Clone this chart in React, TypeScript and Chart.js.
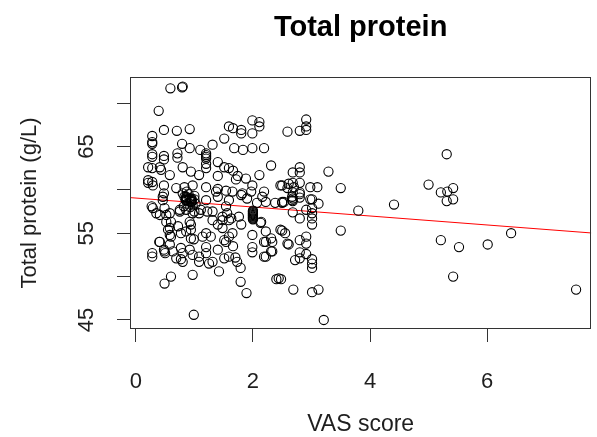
import React, { useEffect, useRef } from "react";
import { Chart, registerables } from "chart.js";

Chart.register(...registerables);

// ---- data ----
const vasScore = [
  0.59, 0.79, 0.8, 0.39,
  0.48, 0.7, 0.92, 0.28, 1.59, 1.51, 1.66, 1.8, 1.8, 1.99, 1.99, 2.11, 2.11, 2.59, 2.8, 2.91, 2.91, 2.91,
  0.28, 0.28, 0.79, 1.31, 0.92, 1.1, 1.2, 0.28, 0.48, 0.71, 1.68, 1.83, 1.99, 2.19, 1.2, 1.2,
  0.28, 0.48, 0.71, 1.2, 1.2, 1.4, 0.21, 0.41, 0.43, 0.8, 0.94, 1.2, 1.51, 1.59, 2.31, 2.8, 2.68, 2.8, 3.29, 1.66, 0.28, 1.08, 0.58, 1.4, 1.74, 1.71, 1.88, 2.11, 0.21, 0.28,
  0.21, 0.29, 0.48, 0.83, 0.97, 1.2, 1.4, 1.54, 0.69, 1.37, 1.65, 1.82, 1.99, 2.47, 2.61, 2.7, 2.98, 3.1, 2.5, 2.68, 2.8, 2.59, 3.5, 1.97, 2.19, 1.8,
  0.48, 0.46, 0.46, 1.2, 1.4, 1.59, 1.9, 2.07, 2.22, 2.38, 2.53, 2.67, 2.16, 2.67, 2.8, 2.98, 2.5, 2.68, 2.8, 2.5, 2.68, 2.68, 2.8, 3.01, 3.12, 0.29, 0.27, 0.49, 1.54,
  0.8, 0.83, 0.85, 0.88, 0.9, 0.92, 0.95, 0.97, 1.0, 1.0, 1.02, 0.82, 0.87, 0.93,
  0.86, 0.86, 0.86, 0.86, 0.86, 0.95, 0.95, 0.95, 0.95, 0.95,
  2.0, 2.0, 2.0, 2.0, 2.0, 2.0, 2.0, 2.0, 2.0, 2.0, 2.0,
  0.35, 0.41, 0.52, 0.58, 0.75, 0.75, 0.86, 0.97, 1.0, 1.08, 1.11, 1.22, 1.31, 1.31, 1.48, 1.48, 1.56, 1.59, 1.76, 2.13, 0.6, 0.92, 0.94, 0.52, 3.01, 3.01, 2.91, 2.68, 2.8, 3.01, 3.8, 4.41, 1.63, 1.8, 2.14,
  0.58, 0.72, 0.58, 0.86, 0.94, 0.99, 1.2, 1.28, 1.51, 1.59, 0.55, 0.6, 0.77, 0.94, 1.14, 1.4, 1.48, 1.54, 1.65, 1.99, 2.22, 2.22, 2.33, 2.55, 2.61, 0.41,
  2.5, 3.01, 3.5, 2.59, 2.8, 2.91, 2.91, 2.8, 2.91, 2.8, 3.01, 3.01, 2.44, 2.4, 2.48, 2.69, 3.01, 3.12, 3.21, 2.19, 2.31, 2.31, 2.19, 2.47, 1.99, 1.99, 2.33, 2.22, 2.72, 3.01, 1.66, 1.7,
  0.28, 0.28, 0.4, 0.48, 0.5, 0.49, 0.63, 0.58, 0.69, 0.8, 0.8, 0.92, 0.97, 1.08, 1.08, 1.2, 1.2, 1.25, 1.4, 1.42, 1.51, 1.59, 0.77, 0.77, 1.31, 1.73, 1.79, 0.6, 0.49, 0.97, 1.79, 1.89, 0.99,
  5.0, 5.31, 5.21, 5.32, 5.42, 5.31, 5.42, 5.21, 5.52, 5.42, 6.01, 6.41, 7.52,
];

const totalProtein = [
  71.7, 71.8, 71.9, 69.1,
  66.9, 66.8, 67.0, 66.2, 67.3, 65.9, 67.1, 66.9, 66.5, 66.5, 68.0, 67.8, 67.3, 66.7, 66.8, 68.1, 67.3, 66.9,
  65.5, 65.3, 65.3, 65.2, 64.8, 64.6, 64.2, 64.1, 63.9, 64.2, 64.8, 64.6, 64.8, 64.8, 64.0, 63.6,
  63.8, 63.5, 63.7, 63.8, 63.0, 63.2, 62.6, 62.6, 62.3, 62.6, 62.1, 62.5, 62.6, 62.5, 62.8, 62.6, 62.0, 62.0, 62.1, 62.2, 62.5, 61.7, 61.7, 61.6, 61.6, 61.2, 61.3, 61.7, 61.1, 60.9,
  60.8, 60.5, 60.5, 60.3, 60.5, 60.3, 60.1, 59.9, 60.2, 59.8, 59.8, 59.6, 60.5, 60.5, 60.7, 60.3, 60.3, 60.3, 60.5, 60.8, 60.8, 60.2, 60.2, 59.8, 59.8, 59.4,
  59.6, 59.2, 58.8, 58.8, 59.2, 58.8, 59.0, 58.5, 58.6, 58.5, 58.6, 58.8, 59.2, 59.2, 59.5, 58.9, 58.6, 59.7, 59.7, 58.5, 59.0, 58.7, 59.1, 58.9, 58.4, 57.9, 58.1, 57.9, 58.1,
  59.6, 59.2, 58.8, 58.4, 59.5, 59.0, 58.6, 58.2, 59.3, 58.9, 58.4, 58.1, 59.8, 58.0,
  58.8, 58.9, 59.0, 59.1, 59.2, 58.6, 58.7, 58.8, 58.9, 59.0,
  56.6, 56.7, 56.8, 56.9, 57.0, 57.1, 57.2, 57.3, 57.4, 57.5, 57.6,
  57.3, 57.1, 57.1, 57.3, 57.5, 57.7, 57.7, 57.3, 57.5, 57.3, 57.7, 57.5, 57.5, 56.5, 56.5, 56.9, 57.3, 56.5, 56.9, 56.2, 56.3, 56.3, 56.0, 56.3, 57.9, 57.3, 57.7, 57.4, 56.7, 56.7, 57.6, 58.3, 56.7, 56.0, 56.3,
  55.6, 55.8, 54.8, 55.2, 54.4, 54.3, 55.0, 54.6, 54.2, 54.6, 55.4, 54.6, 55.0, 55.4, 54.6, 56.0, 55.6, 54.0, 55.0, 54.8, 55.2, 54.0, 54.0, 55.0, 53.7, 54.0,
  55.3, 56.0, 55.3, 53.8, 54.2, 54.6, 53.8, 52.8, 52.6, 52.1, 52.0, 51.5, 49.8, 49.7, 49.7, 48.5, 48.2, 48.5, 45.0, 52.3, 52.9, 54.4, 54.0, 55.4, 53.4, 52.8, 52.9, 52.3, 51.9, 51.0, 53.5, 52.2,
  52.7, 52.3, 54.0, 53.1, 52.7, 52.9, 52.9, 53.7, 52.1, 51.7, 52.7, 53.1, 52.5, 52.3, 51.7, 53.4, 52.7, 51.5, 53.1, 50.6, 52.1, 52.3, 53.3, 52.0, 51.7, 51.7, 51.0, 50.0, 49.2, 50.2, 49.4, 48.1, 45.6,
  60.6, 64.1, 59.7, 59.8, 60.2, 58.7, 58.9, 54.2, 53.4, 50.0, 53.7, 55.0, 48.5,
];

const xTicks = [0, 2, 4, 6];
const yTicks = [45, 50, 55, 60, 65, 70];
const yLabelled = [45, 55, 65];
const xRange = [-0.1, 7.78];
const yRange = [43.96, 73.0];
const fitIntercept = 59.05;
const fitSlope = -0.517;

const chartTitle = "Total protein";
const xTitle = "VAS score";
const yTitle = "Total protein (g/L)";

const FONT = "'Liberation Sans', Arial, sans-serif";
const TEXT = "#1e1e1e";
const LINE = "#333333";

const framePlugin = {
  id: "frame",
  afterDraw(chart: any) {
    const { ctx, chartArea: a } = chart;
    ctx.save();
    ctx.strokeStyle = LINE;
    ctx.lineWidth = 1;
    const l = Math.round(a.left) + 0.5;
    const t = Math.round(a.top) + 0.5;
    const r = Math.round(a.right) - 0.5;
    const b = Math.round(a.bottom) - 0.5;
    ctx.strokeRect(l, t, r - l, b - t);
    ctx.fillStyle = "#000";
    ctx.font = `bold 29px ${FONT}`;
    ctx.textAlign = "center";
    ctx.textBaseline = "alphabetic";
    ctx.fillText(chartTitle, (a.left + a.right) / 2, 36);
    ctx.restore();
  },
};

export default function App() {
  const ref = useRef<HTMLCanvasElement | null>(null);

  useEffect(() => {
    if (!ref.current) return;
    const points = vasScore.map((x, i) => ({ x, y: totalProtein[i] }));
    const fit = xRange.map((x) => ({ x, y: fitIntercept + fitSlope * x }));

    const chart = new Chart(ref.current, {
      type: "scatter",
      data: {
        datasets: [
          {
            label: "data",
            data: points,
            pointStyle: "circle",
            pointRadius: 4.6,
            pointBorderWidth: 1.1,
            borderColor: "#000",
            backgroundColor: "rgba(0,0,0,0)",
            pointBackgroundColor: "rgba(0,0,0,0)",
            pointBorderColor: "#000",
          },
          {
            type: "line",
            label: "fit",
            data: fit,
            borderColor: "#ff0000",
            borderWidth: 1,
            pointRadius: 0,
            showLine: true,
            fill: false,
          } as any,
        ],
      },
      options: {
        animation: false,
        responsive: false,
        events: [],
        layout: { padding: { top: 77, right: 2, bottom: 0, left: 0 } },
        plugins: {
          legend: { display: false },
          tooltip: { enabled: false },
          title: { display: false },
        },
        scales: {
          x: {
            type: "linear",
            min: xRange[0],
            max: xRange[1],
            afterBuildTicks: (s: any) => {
              s.ticks = xTicks.map((v) => ({ value: v }));
            },
            afterFit: (s: any) => {
              s.height = 108;
            },
            grid: {
              display: true,
              drawOnChartArea: false,
              drawTicks: true,
              tickLength: 13,
              color: LINE,
              lineWidth: 1,
            },
            border: { display: false },
            ticks: {
              autoSkip: false,
              maxRotation: 0,
              minRotation: 0,
              padding: 27,
              color: TEXT,
              font: { family: FONT, size: 22 },
              callback: (v: any) => String(v),
            },
            title: {
              display: true,
              text: xTitle,
              color: TEXT,
              font: { family: FONT, size: 23, lineHeight: 1 },
              padding: { top: 0, bottom: 1 },
            },
          },
          y: {
            type: "linear",
            min: yRange[0],
            max: yRange[1],
            afterBuildTicks: (s: any) => {
              s.ticks = yTicks.map((v) => ({ value: v }));
            },
            afterFit: (s: any) => {
              s.width = 130;
            },
            grid: {
              display: true,
              drawOnChartArea: false,
              drawTicks: true,
              tickLength: 13,
              color: LINE,
              lineWidth: 1,
            },
            border: { display: false },
            ticks: {
              autoSkip: false,
              minRotation: 90,
              maxRotation: 90,
              crossAlign: "center",
              padding: 18,
              color: TEXT,
              font: { family: FONT, size: 22 },
              callback: (v: any) => (yLabelled.includes(Number(v)) ? String(v) : ""),
            },
            title: {
              display: true,
              text: yTitle,
              color: TEXT,
              font: { family: FONT, size: 22, lineHeight: 1 },
              padding: { top: 19, bottom: 0 },
            },
          },
        },
      },
      plugins: [framePlugin],
    });
    return () => chart.destroy();
  }, []);

  return (
    <div style={{ position: "fixed", left: 0, top: 0, width: 597, height: 437, background: "#fff" }}>
      <canvas ref={ref} width={597} height={437} style={{ display: "block", width: 597, height: 437 }} />
    </div>
  );
}
